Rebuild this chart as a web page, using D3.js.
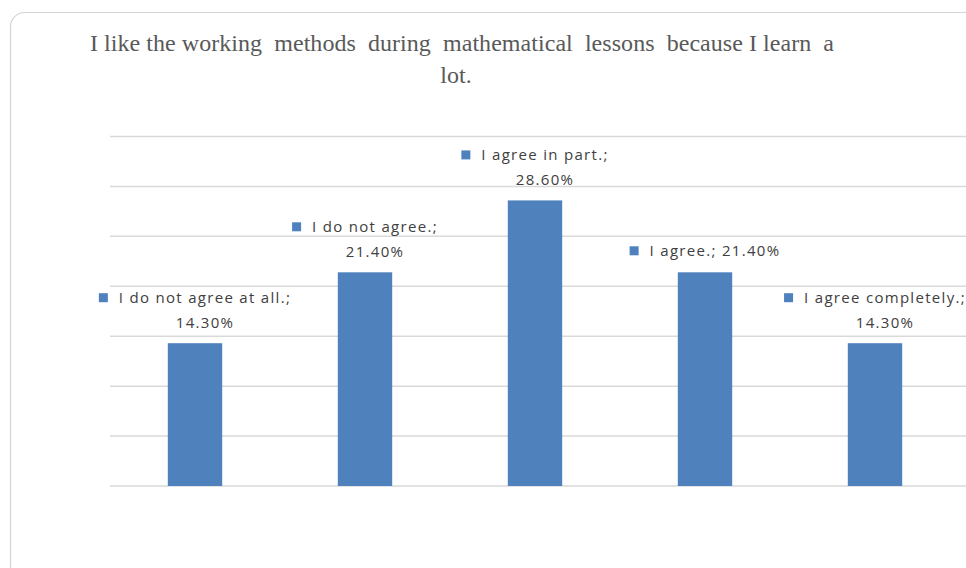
<!DOCTYPE html>
<html>
<head>
<meta charset="utf-8">
<script src="https://cdn.jsdelivr.net/npm/d3@7"></script>
<style>
  html, body { margin: 0; padding: 0; background: #fff; }
</style>
</head>
<body>
<svg id="vis" width="966" height="568"></svg>
<script>
// data
const categories = ["I do not agree at all.", "I do not agree.", "I agree in part.", "I agree.", "I agree completely."];
const values = [14.3, 21.4, 28.6, 21.4, 14.3];
const gridTicks = [0, 5, 10, 15, 20, 25, 30, 35];
const titleLines = ["I like the working  methods  during  mathematical  lessons  because I learn  a", "lot."];
// label style: two lines except "I agree." which is on one line
const oneLine = [false, false, false, true, false];

const svg = d3.select("#vis");

// card frame
svg.append("rect")
  .attr("x", 10.5).attr("y", 12.5)
  .attr("width", 980).attr("height", 600)
  .attr("rx", 14)
  .attr("fill", "#fff")
  .attr("stroke", "#d4d4d4")
  .attr("stroke-width", 1.2);

// title
svg.append("text")
  .attr("x", 462).attr("y", 51)
  .attr("text-anchor", "middle")
  .attr("font-family", "Liberation Serif, serif")
  .attr("font-size", 24)
  .attr("fill", "#595959")
  .style("white-space", "pre")
  .attr("textLength", 744)
  .attr("lengthAdjust", "spacing")
  .text(titleLines[0]);
svg.append("text")
  .attr("x", 456).attr("y", 83)
  .attr("text-anchor", "middle")
  .attr("font-family", "Liberation Serif, serif")
  .attr("font-size", 24)
  .attr("fill", "#595959")
  .text(titleLines[1]);

const x = d3.scaleBand()
  .domain(categories)
  .range([110, 960])
  .paddingInner(0.68)
  .paddingOuter(0.34);

const y = d3.scaleLinear()
  .domain([0, 35])
  .range([486, 136.5]);

// gridlines
svg.append("g")
  .selectAll("line")
  .data(gridTicks)
  .join("line")
  .attr("x1", 110).attr("x2", 966)
  .attr("y1", d => y(d)).attr("y2", d => y(d))
  .attr("stroke", "#d9d9d9")
  .attr("stroke-width", 1.5);

// bars
svg.append("g")
  .selectAll("rect")
  .data(values)
  .join("rect")
  .attr("x", (d, i) => x(categories[i]))
  .attr("y", d => y(d))
  .attr("width", x.bandwidth())
  .attr("height", d => y(0) - y(d))
  .attr("fill", "#4f81bd");

// data labels
const fmt = d => d.toFixed(2) + "%";
const labelG = svg.append("g")
  .attr("font-family", "'Open Sans', sans-serif")
  .attr("font-size", 15)
  .attr("letter-spacing", 1.3)
  .attr("fill", "#404040");

values.forEach((v, i) => {
  const cx = x(categories[i]) + x.bandwidth() / 2;
  const top = y(v);
  const g = labelG.append("g");
  const line1 = oneLine[i] ? categories[i] + "; " + fmt(v) : categories[i] + ";";
  const base1 = oneLine[i] ? top - 16 : top - 40;
  const t1 = g.append("text").attr("y", base1).text(line1);
  const tw = t1.node().getComputedTextLength();
  const total = 9 + 11 + tw;
  const sx = cx - total / 2;
  g.append("rect")
    .attr("x", sx).attr("y", base1 - 10)
    .attr("width", 9).attr("height", 9)
    .attr("fill", "#4f81bd");
  t1.attr("x", sx + 20);
  if (!oneLine[i]) {
    g.append("text")
      .attr("x", sx + 20 + tw / 2)
      .attr("y", top - 15)
      .attr("text-anchor", "middle")
      .text(fmt(v));
  }
});
</script>
</body>
</html>
